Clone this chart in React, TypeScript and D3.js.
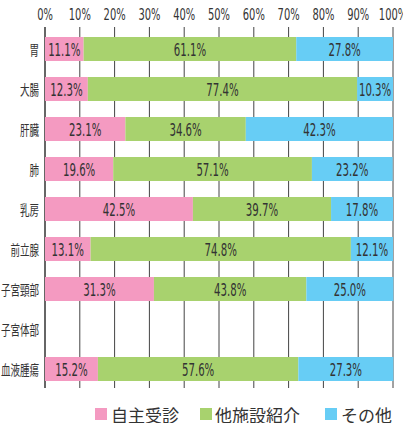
import React from "react";
import * as d3 from "d3";

const categories = ["胃", "大腸", "肝臓", "肺", "乳房", "前立腺", "子宮頸部", "子宮体部", "血液腫瘍"];
const jishu: (number | null)[] = [11.1, 12.3, 23.1, 19.6, 42.5, 13.1, 31.3, null, 15.2];
const tashisetsu: (number | null)[] = [61.1, 77.4, 34.6, 57.1, 39.7, 74.8, 43.8, null, 57.6];
const sonota: (number | null)[] = [27.8, 10.3, 42.3, 23.2, 17.8, 12.1, 25.0, null, 27.3];
const seriesNames = ["自主受診", "他施設紹介", "その他"];
const colors = ["#F49AC1", "#A8D26E", "#67CDF5"];
const ticks = [0, 10, 20, 30, 40, 50, 60, 70, 80, 90, 100];

const W = 403, H = 423;
const textColor = "#333";
const numFont = "'DejaVu Sans', sans-serif";
const jpFont = "'Noto Sans CJK JP', sans-serif";

export default function App() {
  const x = d3.scaleLinear().domain([0, 100]).range([45, 393]);
  const y = d3.scaleBand<string>().domain(categories).range([29, 389]).paddingInner(0.4).paddingOuter(0.2);
  const series = [jishu, tashisetsu, sonota];
  const gridTop = 27, gridBottom = 388;

  const Cond = ({ cx, cy, size, sx, anchor, fam, children }: any) => (
    <g transform={`translate(${cx},${cy}) scale(${sx},1)`}>
      <text x={0} y={0} fontSize={size} fontFamily={fam} fill={textColor} textAnchor={anchor} dominantBaseline="central">
        {children}
      </text>
    </g>
  );

  const legendItems = [
    { sq: 95, tx: 111 },
    { sq: 200, tx: 215 },
    { sq: 325, tx: 341 },
  ];

  return (
    <svg width={W} height={H} style={{ position: "absolute", left: 0, top: 0, background: "#fff" }}>
      {/* gridlines */}
      {ticks.map((t) => (
        <line key={t} x1={x(t)} x2={x(t)} y1={gridTop} y2={gridBottom} stroke={t === 0 ? "#333" : "#444"} strokeWidth={t === 0 ? 1.5 : 1} />
      ))}
      {/* tick labels */}
      {ticks.map((t) => (
        <Cond key={t} cx={x(t)} cy={15} size={16} sx={0.62} anchor="middle" fam={numFont}>
          {t}%
        </Cond>
      ))}
      {/* bars */}
      {categories.map((c, i) => {
        let acc = 0;
        return (
          <g key={c}>
            {series.map((s, k) => {
              const v = s[i];
              if (v == null) return null;
              const x0 = x(acc);
              acc += v;
              const x1 = x(acc);
              return (
                <g key={k}>
                  <rect x={x0} y={y(c)!} width={x1 - x0} height={y.bandwidth()} fill={colors[k]} />
                  <Cond cx={(x0 + x1) / 2} cy={y(c)! + y.bandwidth() / 2 + 1} size={17} sx={0.6} anchor="middle" fam={numFont}>
                    {v.toFixed(1)}%
                  </Cond>
                </g>
              );
            })}
          </g>
        );
      })}
      {/* category labels */}
      {categories.map((c) => (
        <Cond key={c} cx={39} cy={y(c)! + y.bandwidth() / 2} size={14} sx={0.68} anchor="end" fam={jpFont}>
          {c}
        </Cond>
      ))}
      {/* legend */}
      {seriesNames.map((n, k) => (
        <g key={n}>
          <rect x={legendItems[k].sq} y={408} width={12} height={12} fill={colors[k]} />
          <text x={legendItems[k].tx} y={414} fontSize={17} fontFamily={jpFont} fill={textColor} dominantBaseline="central">
            {n}
          </text>
        </g>
      ))}
    </svg>
  );
}
